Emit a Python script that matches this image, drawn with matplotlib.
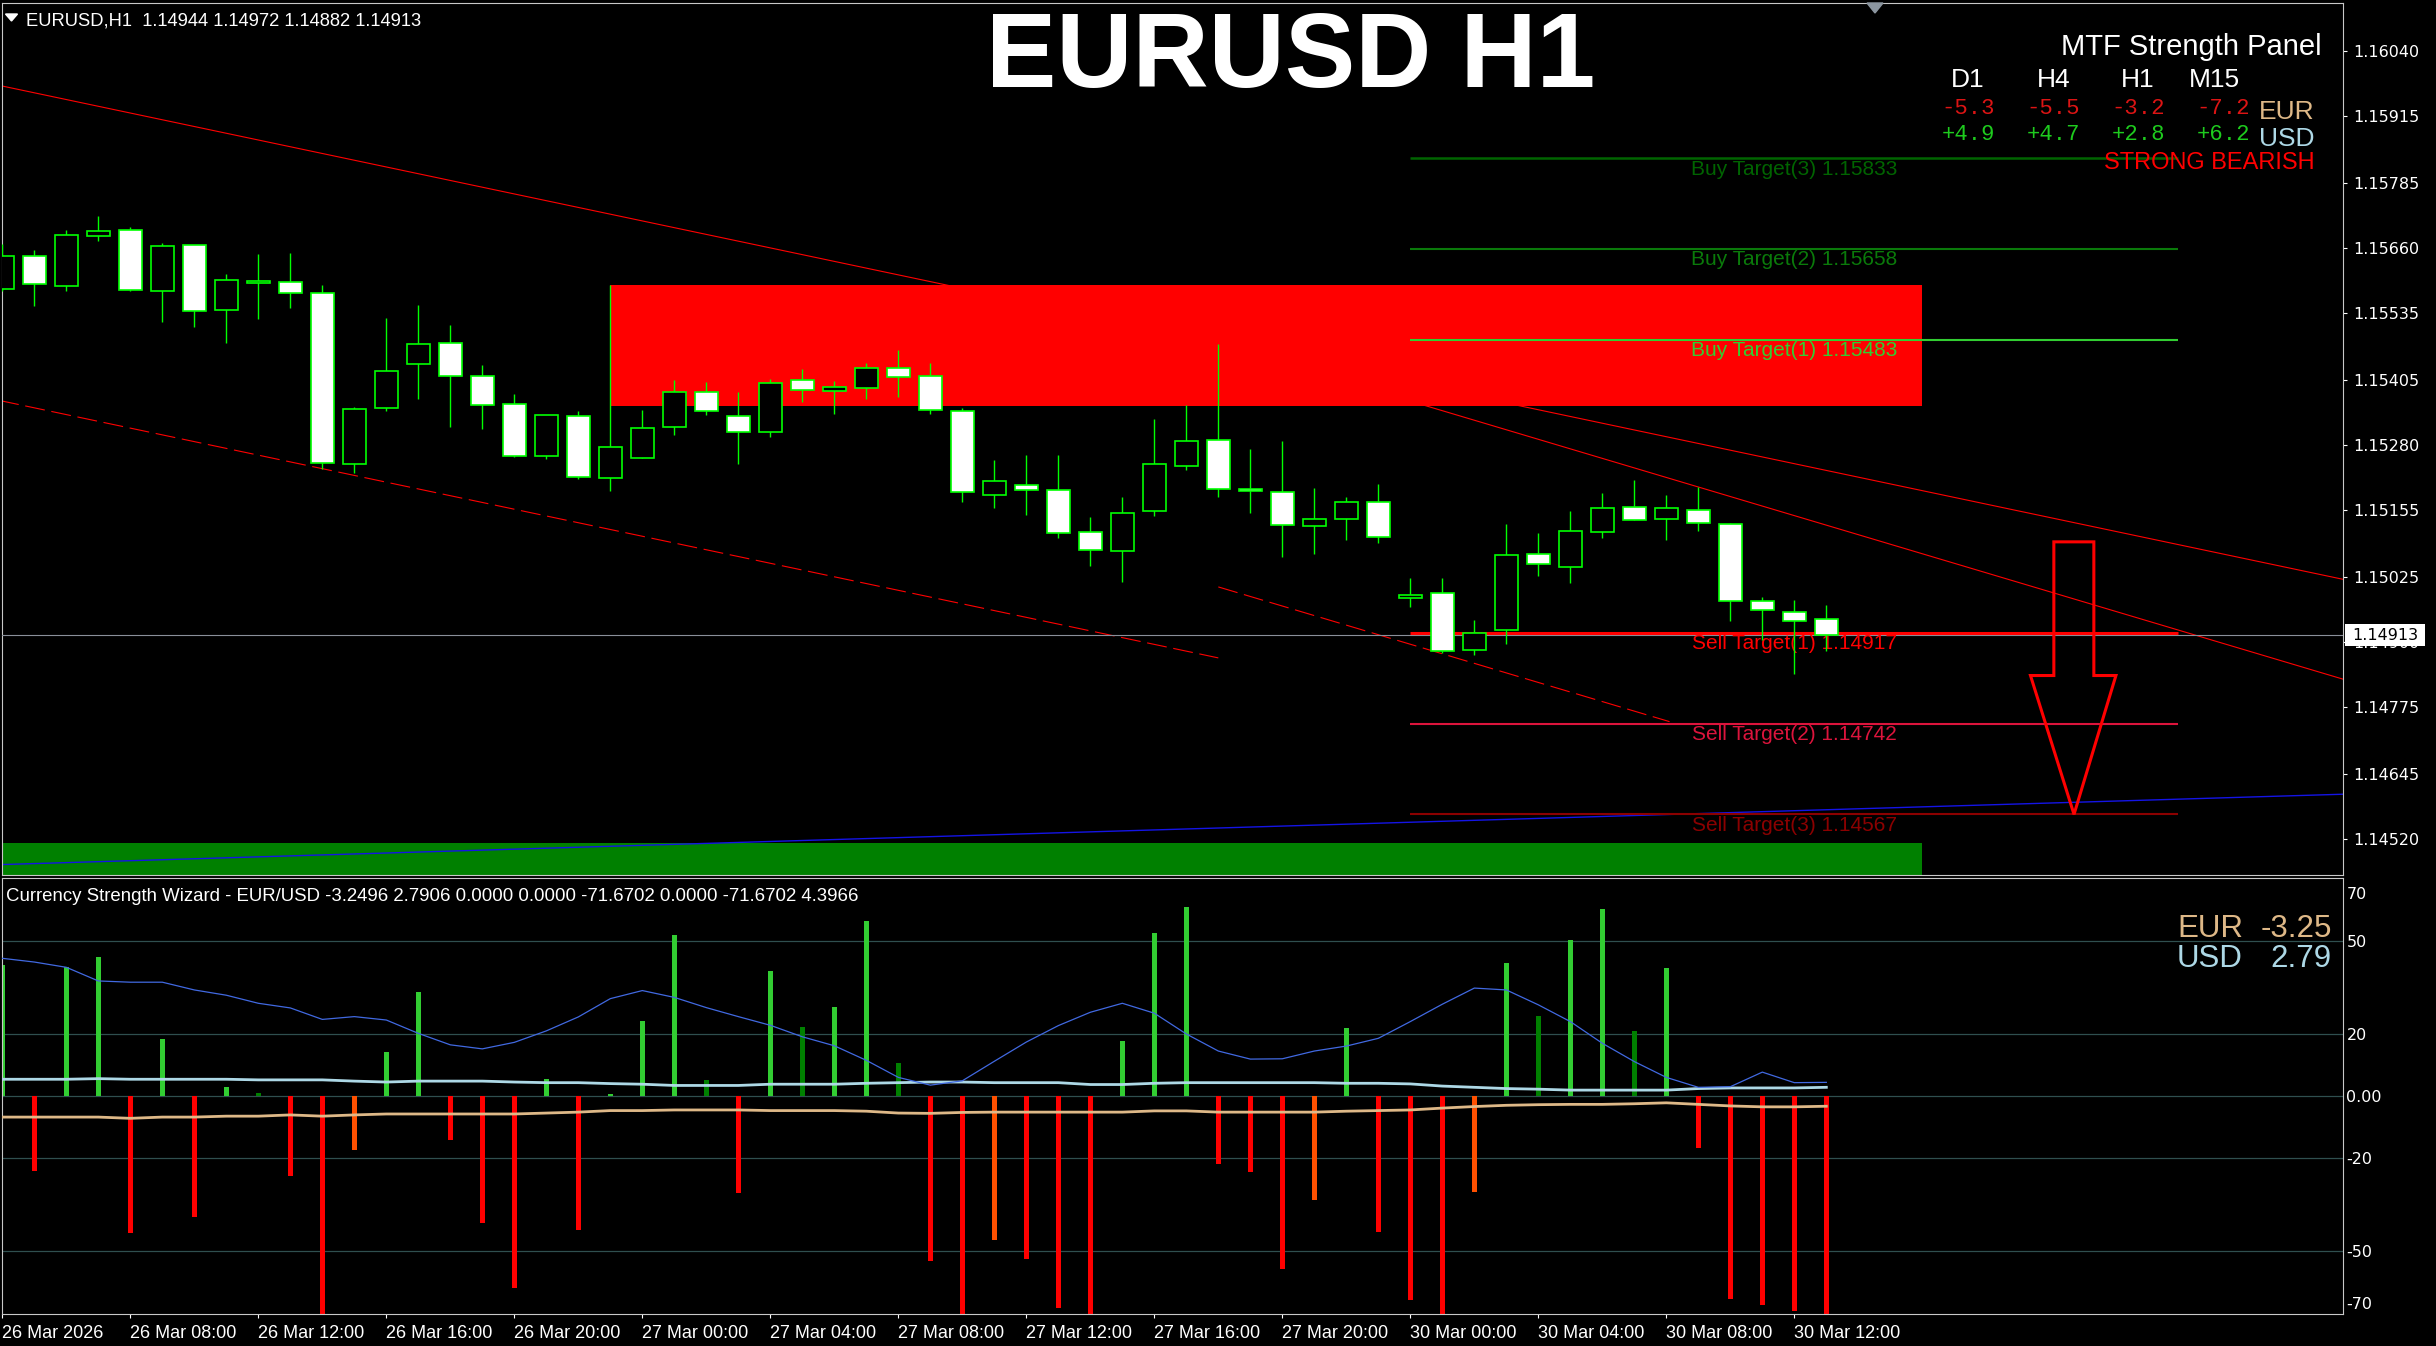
import numpy as np
import matplotlib.pyplot as plt
from matplotlib.patches import Rectangle, Polygon
from matplotlib.transforms import blended_transform_factory

plt.rcParams['font.family'] = ['Liberation Sans', 'DejaVu Sans']

# ---- price data, EURUSD H1 from 26 Mar 04:00 to 30 Mar 13:00 ----
opens = [1.15581, 1.15644, 1.15586, 1.15683, 1.15694, 1.15577, 1.15666, 1.15540, 1.15592, 1.15594,
         1.15573, 1.15243, 1.15351, 1.15436, 1.15476, 1.15413, 1.15359, 1.15258, 1.15336, 1.15216,
         1.15254, 1.15314, 1.15382, 1.15336, 1.15305, 1.15405, 1.15384, 1.15390, 1.15428, 1.15413,
         1.15345, 1.15183, 1.15202, 1.15193, 1.15112, 1.15075, 1.15152, 1.15239, 1.15289, 1.15195,
         1.15189, 1.15123, 1.15137, 1.15170, 1.14984, 1.14995, 1.14884, 1.14922, 1.15069, 1.15044,
         1.15112, 1.15160, 1.15137, 1.15154, 1.15127, 1.14978, 1.14958, 1.14944]
highs = [1.15668, 1.15657, 1.15695, 1.15722, 1.15700, 1.15670, 1.15666, 1.15610, 1.15649, 1.15651,
         1.15589, 1.15353, 1.15525, 1.15550, 1.15512, 1.15435, 1.15379, 1.15337, 1.15346, 1.15589,
         1.15348, 1.15406, 1.15402, 1.15382, 1.15408, 1.15427, 1.15404, 1.15438, 1.15464, 1.15438,
         1.15351, 1.15251, 1.15261, 1.15261, 1.15141, 1.15180, 1.15330, 1.15357, 1.15475, 1.15272,
         1.15288, 1.15197, 1.15180, 1.15205, 1.15024, 1.15024, 1.14942, 1.15128, 1.15110, 1.15152,
         1.15187, 1.15213, 1.15184, 1.15199, 1.15130, 1.14986, 1.14980, 1.14972]
lows = [1.15578, 1.15549, 1.15578, 1.15673, 1.15578, 1.15518, 1.15507, 1.15476, 1.15524, 1.15545,
        1.15233, 1.15225, 1.15346, 1.15368, 1.15314, 1.15310, 1.15256, 1.15252, 1.15215, 1.15192,
        1.15254, 1.15300, 1.15338, 1.15244, 1.15296, 1.15362, 1.15339, 1.15368, 1.15373, 1.15339,
        1.15169, 1.15159, 1.15144, 1.15101, 1.15047, 1.15016, 1.15142, 1.15231, 1.15179, 1.15148,
        1.15063, 1.15070, 1.15097, 1.15090, 1.14967, 1.14878, 1.14874, 1.14895, 1.15028, 1.15013,
        1.15101, 1.15135, 1.15096, 1.15114, 1.14940, 1.14904, 1.14838, 1.14882]
closes = [1.15645, 1.15590, 1.15685, 1.15693, 1.15579, 1.15664, 1.15538, 1.15598, 1.15596, 1.15573,
          1.15245, 1.15349, 1.15422, 1.15474, 1.15413, 1.15357, 1.15258, 1.15337, 1.15218, 1.15276,
          1.15312, 1.15382, 1.15346, 1.15305, 1.15399, 1.15386, 1.15391, 1.15428, 1.15411, 1.15347,
          1.15189, 1.15210, 1.15193, 1.15110, 1.15077, 1.15148, 1.15243, 1.15287, 1.15195, 1.15191,
          1.15125, 1.15137, 1.15170, 1.15102, 1.14990, 1.14882, 1.14917, 1.15067, 1.15050, 1.15114,
          1.15158, 1.15135, 1.15158, 1.15129, 1.14978, 1.14961, 1.14941, 1.14913]

time_ticks = [0, 4, 8, 12, 16, 20, 24, 28, 32, 36, 40, 44, 48, 52, 56]
time_labels = ['26 Mar 2026', '26 Mar 08:00', '26 Mar 12:00', '26 Mar 16:00', '26 Mar 20:00',
               '27 Mar 00:00', '27 Mar 04:00', '27 Mar 08:00', '27 Mar 12:00', '27 Mar 16:00',
               '27 Mar 20:00', '30 Mar 00:00', '30 Mar 04:00', '30 Mar 08:00', '30 Mar 12:00']
price_ticks = [1.16040, 1.15915, 1.15785, 1.15660, 1.15535, 1.15405, 1.15280, 1.15155,
               1.15025, 1.14900, 1.14775, 1.14645, 1.14520]

# ---- objects drawn by the EA ----
supply_start, zone_end = 19, 60
supply_low, supply_high = 1.15356, 1.15589
demand_top = 1.14511
target_from, target_to, target_label_bar = 44, 68, 56
buy_targets = [1.15483, 1.15658, 1.15833]
buy_colors = ['#32CD32', '#0A7A0A', '#006400']
sell_targets = [1.14917, 1.14742, 1.14567]
sell_colors = ['#FF0000', '#DC143C', '#8B0000']
last_price = 1.14913

# trendlines as (bar, price) end points
line_a = ([-0.1, 73.2], [1.15974, 1.15020])
line_b = ([38, 73.2], [1.15475, 1.14827])
line_c = ([-0.1, 38], [1.15366, 1.14869])
line_d = ([38, 52.1], [1.15006, 1.14746])
line_blue = ([-0.1, 73.2], [1.14470, 1.14606])

# ---- Currency Strength Wizard ----
hist = [42.3, -24.2, 41.5, 44.8, -44.1, 18.4, -38.9, 2.9, 1.0, -25.7,
        -71.7, -17.3, 14.2, 33.5, -14.1, -40.9, -61.8, 5.5, -43.1, 0.6,
        24.2, 51.9, 5.2, -31.2, 40.3, 22.3, 28.7, 56.5, 10.6, -53.1,
        -71.7, -46.3, -52.6, -68.3, -71.7, 17.7, 52.6, 61.0, -21.8, -24.4,
        -55.8, -33.5, 21.9, -43.8, -65.7, -71.7, -30.9, 42.9, 25.8, 50.3,
        60.3, 21.0, 41.3, -16.7, -65.4, -67.3, -69.2, -71.7]
hist_kind = ['g', 'r', 'g', 'g', 'r', 'g', 'r', 'g', 'd', 'r',
             'r', 'o', 'g', 'g', 'r', 'r', 'r', 'g', 'r', 'g',
             'g', 'g', 'd', 'r', 'g', 'd', 'g', 'g', 'd', 'r',
             'r', 'o', 'r', 'r', 'r', 'g', 'g', 'g', 'r', 'r',
             'r', 'o', 'g', 'r', 'r', 'r', 'o', 'g', 'd', 'g',
             'g', 'd', 'g', 'r', 'r', 'r', 'r', 'r']
usd = [5.4, 5.4, 5.4, 5.6, 5.4, 5.4, 5.4, 5.4, 5.2, 5.2,
       5.2, 4.8, 4.5, 4.8, 4.8, 4.8, 4.5, 4.3, 4.3, 4.0,
       3.8, 3.4, 3.4, 3.4, 3.8, 3.8, 3.8, 4.1, 4.3, 4.5,
       4.5, 4.3, 4.3, 4.3, 3.7, 3.7, 4.1, 4.3, 4.3, 4.3,
       4.3, 4.3, 4.1, 4.1, 3.9, 3.2, 2.8, 2.4, 2.2, 1.9,
       1.9, 1.9, 1.9, 2.4, 2.6, 2.6, 2.6, 2.8]
eur = [-6.8, -6.8, -6.8, -6.8, -7.2, -6.8, -6.8, -6.5, -6.5, -6.1,
       -6.5, -6.1, -5.8, -5.8, -5.8, -5.8, -5.8, -5.5, -5.2, -4.7,
       -4.7, -4.5, -4.5, -4.5, -4.7, -4.7, -4.7, -4.9, -5.5, -5.6,
       -5.3, -5.2, -5.2, -5.2, -5.2, -5.2, -4.8, -4.8, -5.2, -5.2,
       -5.2, -5.2, -4.9, -4.7, -4.5, -3.9, -3.4, -3.0, -2.8, -2.7,
       -2.7, -2.5, -2.2, -2.7, -3.2, -3.5, -3.5, -3.3]
ma = [44.4, 43.2, 41.5, 37.1, 36.7, 36.7, 34.2, 32.5, 29.9, 28.4,
      24.7, 25.6, 24.5, 20.2, 16.5, 15.2, 17.3, 21.0, 25.5, 31.4,
      34.0, 31.8, 28.5, 25.6, 22.8, 19.1, 16.2, 11.5, 6.0, 3.5,
      4.9, 11.2, 17.4, 22.7, 27.0, 29.9, 26.7, 20.0, 14.5, 11.9,
      12.0, 14.5, 16.1, 18.6, 24.0, 29.6, 34.8, 34.2, 29.4, 24.0,
      17.0, 11.1, 6.0, 2.8, 3.0, 7.7, 4.3, 4.4]
ind_levels = [50, 20, 0, -20, -50]

mtf_tf = ['D1', 'H4', 'H1', 'M15']
mtf_eur = ['-5.3', '-5.5', '-3.2', '-7.2']
mtf_usd = ['+4.9', '+4.7', '+2.8', '+6.2']

# ---- figure ----
W, H, DPI = 2436, 1346, 100
fig = plt.figure(figsize=(W / DPI, H / DPI), dpi=DPI, facecolor='black')


def ftext(x, y, s, **kw):
    return fig.text(x / W, 1 - y / H, s, **kw)


x_left, x_right = 1.5, 2343
ax = fig.add_axes([x_left / W, 1 - 875 / H, (x_right - x_left) / W, (875 - 3) / H])
ax2 = fig.add_axes([x_left / W, 1 - 1314 / H, (x_right - x_left) / W, (1314 - 878) / H])
xlim = ((x_left - 2.33) / 32, (x_right - 2.33) / 32)

for a in (ax, ax2):
    a.set_facecolor('black')
    a.set_xlim(*xlim)
    for s in a.spines.values():
        s.set_color('#C8C8C8')
        s.set_linewidth(0.8)

# main chart
ax.set_ylim(1.14450, 1.16133)
bars = np.arange(len(opens))
o, c = np.array(opens), np.array(closes)
bull = c >= o

ax.plot(*line_a, color='#FF0000', lw=0.8, zorder=1)
ax.plot(*line_b, color='#FF0000', lw=0.8, zorder=1)
ax.plot(*line_c, color='#FF0000', lw=0.8, ls=(0, (18, 6)), zorder=1)
ax.plot(*line_d, color='#FF0000', lw=0.8, ls=(0, (18, 6)), zorder=1)

ax.add_patch(Rectangle((supply_start, supply_low), zone_end - supply_start,
                       supply_high - supply_low, color='#FF0000', lw=0, zorder=2))
ax.add_patch(Rectangle((-5, 1.1430), zone_end + 5, demand_top - 1.1430,
                       color='#008000', lw=0, zorder=2))
ax.plot(*line_blue, color='#1414E6', lw=1.0, zorder=2.5)

ax.axhline(last_price, color='#8A8F99', lw=0.8, zorder=3)

for lvl, col, w in zip(buy_targets, buy_colors, [1.5, 1.5, 1.8]):
    ax.hlines(lvl, target_from, target_to, color=col, lw=w, zorder=3)
for lvl, col, w in zip(sell_targets, sell_colors, [2.2, 1.5, 1.5]):
    ax.hlines(lvl, target_from, target_to, color=col, lw=w, zorder=3)
for k, (lvl, col) in enumerate(zip(buy_targets, buy_colors)):
    ax.annotate(f'Buy Target({k + 1}) {lvl:.5f}', (target_label_bar, lvl), xytext=(0, -1),
                textcoords='offset points', ha='center', va='top', color=col,
                fontsize=15, zorder=4)
for k, (lvl, col) in enumerate(zip(sell_targets, sell_colors)):
    ax.annotate(f'Sell Target({k + 1}) {lvl:.5f}', (target_label_bar, lvl), xytext=(0, -1),
                textcoords='offset points', ha='center', va='top', color=col,
                fontsize=15, zorder=4)

# candles
ax.vlines(bars, lows, highs, color='#00FF00', lw=1.0, zorder=5)
ax.bar(bars, np.abs(c - o), bottom=np.minimum(o, c), width=0.72,
       color=['black' if b else 'white' for b in bull], edgecolor='#00FF00',
       linewidth=1.2, zorder=6)

# big sell arrow pointing at the last target
tip = sell_targets[2]
ax_c, head_y, top_y = 64.74, 1.14835, 1.15093
arrow = [(ax_c - 0.63, top_y), (ax_c + 0.62, top_y), (ax_c + 0.62, head_y),
         (ax_c + 1.31, head_y), (ax_c, tip), (ax_c - 1.36, head_y), (ax_c - 0.63, head_y)]
ax.add_patch(Polygon(arrow, closed=True, fill=False, edgecolor='#FF0000', lw=2.2, zorder=7))

ax.set_xticks([])
ax.yaxis.tick_right()
ax.set_yticks(price_ticks)
ax.set_yticklabels([f'{p:.5f}' for p in price_ticks])
ax.tick_params(axis='y', colors='white', length=3, width=0.8, pad=4.3, labelsize=11.5)
for lab in ax.get_yticklabels():
    lab.set_family('DejaVu Sans')

# current price box on the price scale
blend = blended_transform_factory(ax.transAxes, ax.transData)
box_w = 80 / (x_right - x_left)
box_h = 22 / 51816
ax.add_patch(Rectangle((1.0 + 2 / (x_right - x_left), last_price - box_h / 2), box_w, box_h,
                       transform=blend, facecolor='white', edgecolor='none',
                       clip_on=False, zorder=9))
ax.text(1.0 + 42 / (x_right - x_left), last_price, f'{last_price:.5f}', transform=blend,
        ha='center', va='center', color='black', fontsize=11.5, family='DejaVu Sans',
        clip_on=False, zorder=10)

# indicator panel
ax2.set_ylim(-70.3, 70.3)
for lv in ind_levels:
    ax2.axhline(lv, color='#2F4F4F', lw=0.9, zorder=1)
kind_col = {'g': '#32CD32', 'd': '#008000', 'r': '#FF0000', 'o': '#FF5000'}
ax2.bar(bars, hist, width=0.14, color=[kind_col[k] for k in hist_kind], zorder=2)
ax2.plot(bars, usd, color='#ADD8E6', lw=2.0, zorder=3)
ax2.plot(bars, eur, color='#DEB887', lw=2.0, zorder=3)
ax2.plot(bars, ma, color='#4169E1', lw=0.9, zorder=4)

ax2.yaxis.tick_right()
ax2.set_yticks(ind_levels)
ax2.set_yticklabels(['50', '20', '0.00', '-20', '-50'])
ax2.tick_params(axis='y', colors='white', length=0, pad=2.5, labelsize=11.5)
for lab in ax2.get_yticklabels():
    lab.set_family('DejaVu Sans')
ax2.text(1.0 + 3.5 / 2341, 0.951, '70', transform=ax2.transAxes, color='white',
         fontsize=11.5, family='DejaVu Sans', va='baseline', ha='left')
ax2.text(1.0 + 3.5 / 2341, 0.011, '-70', transform=ax2.transAxes, color='white',
         fontsize=11.5, family='DejaVu Sans', va='baseline', ha='left')

ax2.set_xticks(time_ticks)
ax2.set_xticklabels(time_labels, ha='left')
ax2.tick_params(axis='x', colors='white', length=3, width=0.8, pad=5, labelsize=13)

ftext(6, 900.7, 'Currency Strength Wizard - EUR/USD -3.2496 2.7906 0.0000 0.0000 '
      '-71.6702 0.0000 -71.6702 4.3966', color='white', fontsize=13.4, va='baseline')
ftext(2177, 936.7, 'EUR', color='#DEB887', fontsize=22.5, va='baseline')
ftext(2332, 936.7, '-3.25', color='#DEB887', fontsize=22.5, va='baseline', ha='right')
ftext(2177, 966.7, 'USD', color='#ADD8E6', fontsize=22.5, va='baseline')
ftext(2332, 966.7, '2.79', color='#ADD8E6', fontsize=22.5, va='baseline', ha='right')

# header and panels on top of the main chart
ftext(26, 25, 'EURUSD,H1  1.14944 1.14972 1.14882 1.14913', color='white', fontsize=13.2,
      va='baseline')
fig.patches.append(Polygon([(5.5 / W, 1 - 14 / H), (17.5 / W, 1 - 14 / H), (11.5 / W, 1 - 21 / H)],
                           closed=True, transform=fig.transFigure, color='white'))
fig.patches.append(Polygon([(1867 / W, 1 - 3 / H), (1883 / W, 1 - 3 / H), (1875 / W, 1 - 13 / H)],
                           closed=True, transform=fig.transFigure, color='#8C96A0'))
ftext(1291, 87, 'EURUSD H1', color='white', fontsize=76, fontweight='bold',
      ha='center', va='baseline')

ftext(2322, 55, 'MTF Strength Panel', color='white', fontsize=21, ha='right', va='baseline')
for xc, tf in zip([1968, 2054, 2138, 2214], mtf_tf):
    ftext(xc, 87, tf, color='white', fontsize=19, ha='center', va='baseline')
for xr, ev, uv in zip([1995, 2080, 2165, 2250], mtf_eur, mtf_usd):
    ftext(xr, 114, ev, color='#DC1414', fontsize=16, family='Liberation Mono',
          ha='right', va='baseline')
    ftext(xr, 139.5, uv, color='#1ECB1E', fontsize=16, family='Liberation Mono',
          ha='right', va='baseline')
ftext(2259, 119, 'EUR', color='#DEB887', fontsize=19, va='baseline')
ftext(2259, 145.7, 'USD', color='#ADD8E6', fontsize=19, va='baseline')
ftext(2315, 169.3, 'STRONG BEARISH', color='#FF0000', fontsize=17, ha='right', va='baseline')

fig.savefig('out.png', dpi=DPI, facecolor='black')
